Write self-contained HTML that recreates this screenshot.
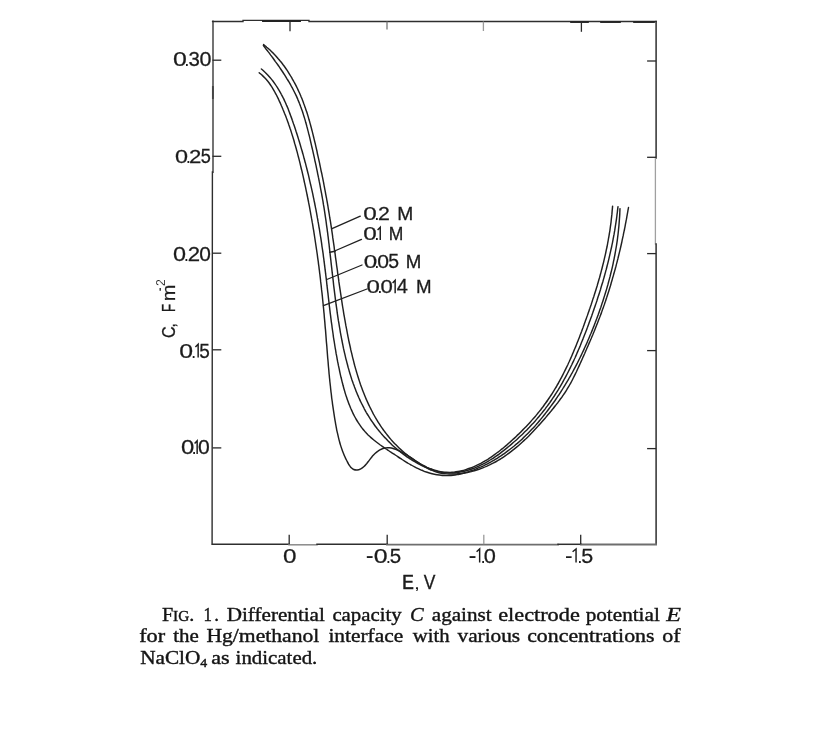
<!DOCTYPE html>
<html><head><meta charset="utf-8"><title>Fig. 1</title>
<style>html,body{margin:0;padding:0;background:#fff}body{width:832px;height:750px;position:relative;overflow:hidden;font-family:"Liberation Sans",sans-serif}</style>
</head><body>
<svg width="832" height="750" viewBox="0 0 832 750" style="position:absolute;left:0;top:0;will-change:transform;filter:grayscale(1) blur(0.35px);font-family:'Liberation Sans',sans-serif">
<g fill="none" stroke-linecap="square">
<path d="M213.0,21.5 L213.0,172" stroke="#6c6c6c" stroke-width="1.9"/>
<path d="M212.9,87 L212.9,98" stroke="#444" stroke-width="1.9"/>
<path d="M212.4,172 L212.1,544.3" stroke="#2e2e2e" stroke-width="1.4"/>
<path d="M656.1,21.5 L656.1,158" stroke="#2e2e2e" stroke-width="1.5"/>
<path d="M655.4,158 L655.4,244" stroke="#a0a0a0" stroke-width="1.3"/>
<path d="M656.1,244 L656.1,544.3" stroke="#2e2e2e" stroke-width="1.5"/>
<path d="M212.6,21.5 L243,21.5" stroke="#2e2e2e" stroke-width="1.4"/>
<path d="M243,20.4 L309,20.4" stroke="#2e2e2e" stroke-width="1.3"/>
<path d="M263,21.0 L300,21.0" stroke="#222" stroke-width="1.9"/>
<path d="M309,21.5 L656.1,21.5" stroke="#2e2e2e" stroke-width="1.4"/>
<path d="M571,22.1 L588,22.1" stroke="#222" stroke-width="1.7"/>
<path d="M601,22.1 L620,22.1" stroke="#222" stroke-width="1.7"/>
<path d="M634,22.1 L654,22.1" stroke="#222" stroke-width="1.7"/>
<path d="M212.6,544.3 L289,544.3" stroke="#2e2e2e" stroke-width="1.5"/>
<path d="M289,544.8 L317,544.8" stroke="#8a8a8a" stroke-width="1.5"/>
<path d="M317,544.3 L387,544.3" stroke="#2e2e2e" stroke-width="1.5"/>
<path d="M387,544.5999999999999 L558,544.5999999999999" stroke="#6e6e6e" stroke-width="1.9"/>
<path d="M558,544.3 L581,544.3" stroke="#2e2e2e" stroke-width="1.5"/>
<path d="M581,544.5 L656.1,544.5" stroke="#6e6e6e" stroke-width="1.8"/>
</g>
<g fill="none">
<path d="M212.5,60.2 L221.3,60.2" stroke="#2a2a2a" stroke-width="1.3"/>
<path d="M212.5,156.3 L221.3,156.3" stroke="#2a2a2a" stroke-width="1.3"/>
<path d="M212.5,253.2 L221.3,253.2" stroke="#2a2a2a" stroke-width="1.3"/>
<path d="M212.5,349.8 L221.3,349.8" stroke="#2a2a2a" stroke-width="1.3"/>
<path d="M212.5,447.9 L221.3,447.9" stroke="#2a2a2a" stroke-width="1.3"/>
<path d="M656.1,61.0 L647.1,61.0" stroke="#2a2a2a" stroke-width="1.3"/>
<path d="M656.1,157.3 L647.1,157.3" stroke="#2a2a2a" stroke-width="1.3"/>
<path d="M656.1,253.6 L647.1,253.6" stroke="#2a2a2a" stroke-width="1.3"/>
<path d="M656.1,350.6 L647.1,350.6" stroke="#2a2a2a" stroke-width="1.3"/>
<path d="M656.1,448.6 L647.1,448.6" stroke="#2a2a2a" stroke-width="1.3"/>
<path d="M289.2,544.3 L289.2,534.6999999999999" stroke="#2a2a2a" stroke-width="1.3"/>
<path d="M387.2,544.3 L387.2,534.6999999999999" stroke="#2a2a2a" stroke-width="1.3"/>
<path d="M483.8,544.3 L483.8,534.6999999999999" stroke="#9a9a9a" stroke-width="1.3"/>
<path d="M580.7,544.3 L580.7,534.6999999999999" stroke="#2a2a2a" stroke-width="1.3"/>
<path d="M290.0,21.5 L290.0,31.3" stroke="#2a2a2a" stroke-width="1.3"/>
<path d="M387.0,21.5 L387.0,29.5" stroke="#777" stroke-width="1.3"/>
<path d="M483.4,21.5 L483.4,31.0" stroke="#9a9a9a" stroke-width="1.3"/>
<path d="M581.4,21.5 L581.4,31.8" stroke="#2a2a2a" stroke-width="1.3"/>
</g>
<g fill="none" stroke="#202020" stroke-width="1.45" stroke-linecap="round" stroke-linejoin="round">
<path d="M263.6,44.6C264.1,45.1 265.7,46.3 266.7,47.2C267.7,48.0 268.7,48.9 269.7,49.8C270.7,50.7 271.6,51.7 272.6,52.6C273.5,53.6 274.4,54.5 275.4,55.5C276.3,56.5 277.2,57.5 278.0,58.5C278.9,59.5 279.8,60.5 280.6,61.6C281.5,62.6 282.3,63.7 283.1,64.8C283.9,65.8 284.7,66.9 285.5,68.0C286.3,69.1 287.0,70.3 287.8,71.4C288.5,72.5 289.2,73.7 289.9,74.8C290.7,76.0 291.3,77.1 292.0,78.3C292.7,79.5 293.4,80.6 294.0,81.8C294.7,83.0 295.3,84.2 295.9,85.4C296.5,86.6 297.1,87.9 297.7,89.1C298.3,90.3 298.8,91.5 299.4,92.8C299.9,94.0 300.5,95.2 301.0,96.5C301.5,97.7 302.0,99.0 302.5,100.2C303.0,101.5 303.5,102.7 303.9,104.0C304.4,105.2 304.8,106.5 305.3,107.8C305.7,109.0 306.1,110.3 306.6,111.6C307.0,112.8 307.4,114.1 307.8,115.4C308.2,116.7 308.6,118.0 308.9,119.3C309.3,120.5 309.7,121.8 310.0,123.1C310.4,124.4 310.7,125.7 311.1,127.0C311.4,128.3 311.8,129.6 312.1,130.9C312.4,132.2 312.8,133.5 313.1,134.8C313.4,136.1 313.7,137.4 314.0,138.7C314.3,140.0 314.7,141.4 315.0,142.7C315.3,144.0 315.6,145.3 315.9,146.6C316.2,147.9 316.5,149.2 316.8,150.5C317.1,151.8 317.3,153.2 317.6,154.5C317.9,155.8 318.2,157.1 318.5,158.4C318.8,159.7 319.1,161.0 319.4,162.4C319.7,163.7 319.9,165.0 320.2,166.3C320.5,167.6 320.8,169.0 321.0,170.3C321.3,171.6 321.6,172.9 321.9,174.2C322.1,175.5 322.4,176.9 322.7,178.2C322.9,179.5 323.2,180.8 323.5,182.2C323.7,183.5 324.0,184.8 324.2,186.1C324.5,187.4 324.7,188.8 325.0,190.1C325.2,191.4 325.5,192.7 325.7,194.1C326.0,195.4 326.2,196.7 326.5,198.0C326.7,199.4 326.9,200.7 327.2,202.0C327.4,203.3 327.6,204.7 327.9,206.0C328.1,207.3 328.3,208.7 328.5,210.0C328.8,211.3 329.0,212.6 329.2,214.0C329.4,215.3 329.6,216.6 329.8,218.0C330.1,219.3 330.3,220.6 330.5,221.9C330.7,223.3 330.9,224.6 331.1,225.9C331.3,227.3 331.5,228.6 331.7,229.9C331.9,231.3 332.1,232.6 332.3,233.9C332.5,235.3 332.7,236.6 332.8,237.9C333.0,239.2 333.2,240.6 333.4,241.9C333.6,243.2 333.8,244.6 334.0,245.9C334.2,247.2 334.3,248.6 334.5,249.9C334.7,251.2 334.9,252.6 335.1,253.9C335.3,255.2 335.4,256.6 335.6,257.9C335.8,259.2 336.0,260.6 336.2,261.9C336.4,263.2 336.5,264.6 336.7,265.9C336.9,267.2 337.1,268.6 337.3,269.9C337.5,271.2 337.6,272.6 337.8,273.9C338.0,275.2 338.2,276.5 338.4,277.9C338.6,279.2 338.8,280.5 338.9,281.9C339.1,283.2 339.3,284.5 339.5,285.9C339.7,287.2 339.9,288.5 340.1,289.9C340.3,291.2 340.5,292.5 340.7,293.8C340.9,295.2 341.1,296.5 341.3,297.8C341.5,299.2 341.7,300.5 341.9,301.8C342.1,303.1 342.3,304.5 342.5,305.8C342.7,307.1 342.9,308.5 343.2,309.8C343.4,311.1 343.6,312.4 343.8,313.8C344.0,315.1 344.3,316.4 344.5,317.7C344.7,319.1 345.0,320.4 345.2,321.7C345.4,323.0 345.7,324.4 345.9,325.7C346.2,327.0 346.4,328.3 346.7,329.7C346.9,331.0 347.2,332.3 347.4,333.6C347.7,334.9 347.9,336.3 348.2,337.6C348.5,338.9 348.7,340.2 349.0,341.5C349.3,342.9 349.6,344.2 349.9,345.5C350.2,346.8 350.5,348.1 350.7,349.4C351.0,350.8 351.3,352.1 351.7,353.4C352.0,354.7 352.3,356.0 352.6,357.3C352.9,358.6 353.3,359.9 353.6,361.2C353.9,362.6 354.3,363.9 354.6,365.2C355.0,366.5 355.3,367.8 355.7,369.1C356.1,370.4 356.4,371.6 356.8,372.9C357.2,374.2 357.6,375.5 358.0,376.8C358.4,378.1 358.8,379.4 359.2,380.6C359.6,381.9 360.1,383.2 360.5,384.5C360.9,385.7 361.4,387.0 361.9,388.2C362.3,389.5 362.8,390.8 363.3,392.0C363.8,393.3 364.3,394.5 364.8,395.7C365.3,397.0 365.8,398.2 366.3,399.4C366.9,400.7 367.4,401.9 368.0,403.1C368.5,404.3 369.1,405.5 369.7,406.7C370.3,407.9 370.9,409.1 371.5,410.3C372.1,411.5 372.7,412.7 373.3,413.9C374.0,415.0 374.6,416.2 375.3,417.4C376.0,418.5 376.7,419.7 377.4,420.8C378.1,422.0 378.8,423.1 379.5,424.2C380.3,425.4 381.0,426.5 381.8,427.6C382.6,428.7 383.3,429.8 384.1,430.9C384.9,432.0 385.8,433.1 386.6,434.1C387.4,435.2 388.3,436.3 389.1,437.3C390.0,438.3 390.9,439.4 391.8,440.4C392.7,441.4 393.6,442.4 394.5,443.4C395.5,444.4 396.4,445.3 397.4,446.3C398.3,447.2 399.3,448.2 400.3,449.1C401.3,450.0 402.3,450.9 403.3,451.8C404.3,452.7 405.4,453.6 406.4,454.4C407.5,455.3 408.5,456.1 409.6,456.9C410.7,457.7 411.8,458.5 412.9,459.2C414.0,460.0 415.2,460.8 416.3,461.5C417.5,462.2 418.6,462.9 419.8,463.6C421.0,464.2 422.2,464.9 423.4,465.5C424.6,466.1 425.8,466.7 427.0,467.3C428.2,467.8 429.5,468.3 430.7,468.8C432.0,469.3 433.2,469.7 434.5,470.1C435.8,470.5 437.1,470.8 438.3,471.1C439.6,471.4 440.9,471.7 442.2,471.9C443.5,472.1 444.8,472.2 446.1,472.3C447.5,472.4 448.8,472.4 450.1,472.4C451.4,472.3 452.7,472.2 454.0,472.1C455.4,472.0 456.7,471.8 458.0,471.5C459.3,471.3 460.6,471.0 461.9,470.7C463.2,470.4 464.5,470.0 465.8,469.6C467.1,469.2 468.4,468.8 469.7,468.3C470.9,467.9 472.2,467.4 473.5,466.8C474.7,466.3 475.9,465.8 477.1,465.2C478.4,464.6 479.6,464.0 480.8,463.4C481.9,462.7 483.1,462.1 484.3,461.4C485.5,460.7 486.6,460.0 487.8,459.3C488.9,458.6 490.0,457.8 491.1,457.1C492.3,456.3 493.4,455.5 494.5,454.7C495.6,453.9 496.7,453.1 497.7,452.3C498.8,451.5 499.9,450.6 500.9,449.8C502.0,448.9 503.1,448.1 504.1,447.2C505.1,446.3 506.2,445.4 507.2,444.6C508.2,443.7 509.2,442.8 510.3,441.9C511.3,441.0 512.3,440.1 513.3,439.1C514.3,438.2 515.3,437.3 516.2,436.4C517.2,435.4 518.2,434.5 519.2,433.6C520.1,432.6 521.1,431.7 522.0,430.7C523.0,429.8 523.9,428.8 524.9,427.8C525.8,426.9 526.7,425.9 527.6,424.9C528.6,423.9 529.5,422.9 530.4,421.9C531.3,421.0 532.2,419.9 533.0,418.9C533.9,417.9 534.8,416.9 535.7,415.9C536.5,414.9 537.4,413.8 538.2,412.8C539.1,411.8 539.9,410.7 540.7,409.7C541.5,408.6 542.3,407.6 543.2,406.5C544.0,405.4 544.7,404.3 545.5,403.3C546.3,402.2 547.1,401.1 547.8,400.0C548.6,398.9 549.4,397.8 550.1,396.7C550.8,395.6 551.6,394.4 552.3,393.3C553.0,392.2 553.7,391.0 554.4,389.9C555.1,388.8 555.8,387.6 556.5,386.5C557.1,385.3 557.8,384.1 558.5,383.0C559.1,381.8 559.8,380.6 560.4,379.4C561.0,378.3 561.7,377.1 562.3,375.9C562.9,374.7 563.5,373.5 564.1,372.3C564.7,371.1 565.3,369.9 565.9,368.6C566.5,367.4 567.1,366.2 567.7,365.0C568.2,363.8 568.8,362.5 569.4,361.3C569.9,360.1 570.5,358.8 571.0,357.6C571.6,356.4 572.1,355.1 572.6,353.9C573.2,352.6 573.7,351.4 574.2,350.1C574.7,348.9 575.3,347.6 575.8,346.4C576.3,345.1 576.8,343.9 577.3,342.6C577.8,341.3 578.3,340.1 578.8,338.8C579.3,337.6 579.7,336.3 580.2,335.0C580.7,333.8 581.2,332.5 581.7,331.2C582.1,329.9 582.6,328.7 583.1,327.4C583.5,326.1 584.0,324.9 584.5,323.6C584.9,322.3 585.4,321.1 585.8,319.8C586.3,318.5 586.7,317.2 587.2,316.0C587.6,314.7 588.1,313.4 588.5,312.2C589.0,310.9 589.4,309.6 589.9,308.3C590.3,307.1 590.7,305.8 591.2,304.5C591.6,303.2 592.0,302.0 592.4,300.7C592.8,299.4 593.3,298.1 593.7,296.9C594.1,295.6 594.5,294.3 594.9,293.0C595.3,291.8 595.7,290.5 596.1,289.2C596.5,287.9 596.9,286.6 597.3,285.4C597.6,284.1 598.0,282.8 598.4,281.5C598.8,280.2 599.1,278.9 599.5,277.7C599.9,276.4 600.2,275.1 600.6,273.8C600.9,272.5 601.3,271.2 601.6,269.9C601.9,268.6 602.3,267.3 602.6,266.0C602.9,264.7 603.3,263.4 603.6,262.1C603.9,260.8 604.2,259.5 604.5,258.2C604.8,256.9 605.1,255.6 605.4,254.3C605.7,253.0 606.0,251.7 606.2,250.4C606.5,249.1 606.8,247.8 607.1,246.5C607.3,245.1 607.6,243.8 607.8,242.5C608.1,241.2 608.3,239.9 608.5,238.5C608.8,237.2 609.0,235.9 609.2,234.6C609.4,233.2 609.7,231.9 609.9,230.6C610.1,229.2 610.2,227.9 610.4,226.6C610.6,225.2 610.8,223.9 611.0,222.5C611.1,221.2 611.3,219.8 611.4,218.5C611.6,217.1 611.7,215.8 611.9,214.4C612.0,213.1 612.1,211.7 612.2,210.3C612.4,209.0 612.5,206.9 612.6,206.2"/>
<path d="M263.4,45.5C263.8,46.1 265.0,47.6 265.8,48.7C266.6,49.7 267.5,50.8 268.3,51.9C269.1,52.9 269.9,54.0 270.7,55.1C271.5,56.1 272.3,57.2 273.1,58.3C273.9,59.4 274.7,60.5 275.4,61.6C276.2,62.6 277.0,63.7 277.8,64.8C278.6,65.9 279.3,67.0 280.1,68.1C280.9,69.3 281.6,70.4 282.4,71.5C283.1,72.6 283.8,73.7 284.6,74.9C285.3,76.0 286.0,77.1 286.7,78.3C287.4,79.4 288.1,80.6 288.8,81.7C289.5,82.9 290.1,84.0 290.8,85.2C291.4,86.4 292.1,87.6 292.7,88.7C293.3,89.9 293.9,91.1 294.5,92.3C295.1,93.5 295.7,94.7 296.3,95.9C296.8,97.1 297.4,98.3 297.9,99.6C298.4,100.8 298.9,102.0 299.4,103.3C299.9,104.5 300.4,105.8 300.8,107.0C301.3,108.3 301.7,109.5 302.2,110.8C302.6,112.0 303.0,113.3 303.4,114.6C303.8,115.9 304.2,117.1 304.6,118.4C305.0,119.7 305.4,121.0 305.7,122.3C306.1,123.6 306.5,124.9 306.8,126.2C307.2,127.5 307.5,128.8 307.8,130.1C308.2,131.4 308.5,132.7 308.8,134.0C309.2,135.3 309.5,136.6 309.8,137.9C310.1,139.2 310.4,140.5 310.7,141.8C311.0,143.1 311.3,144.4 311.6,145.8C311.9,147.1 312.2,148.4 312.5,149.7C312.8,151.0 313.1,152.3 313.4,153.6C313.7,154.9 314.0,156.2 314.3,157.6C314.6,158.9 314.8,160.2 315.1,161.5C315.4,162.8 315.7,164.1 316.0,165.4C316.3,166.7 316.5,168.0 316.8,169.4C317.1,170.7 317.4,172.0 317.6,173.3C317.9,174.6 318.2,175.9 318.4,177.2C318.7,178.6 319.0,179.9 319.2,181.2C319.5,182.5 319.7,183.8 320.0,185.1C320.2,186.4 320.5,187.8 320.7,189.1C321.0,190.4 321.2,191.7 321.5,193.0C321.7,194.3 321.9,195.7 322.2,197.0C322.4,198.3 322.6,199.6 322.9,200.9C323.1,202.3 323.3,203.6 323.5,204.9C323.8,206.2 324.0,207.5 324.2,208.9C324.4,210.2 324.6,211.5 324.8,212.8C325.0,214.2 325.2,215.5 325.4,216.8C325.6,218.1 325.8,219.5 326.0,220.8C326.2,222.1 326.3,223.4 326.5,224.8C326.7,226.1 326.9,227.4 327.1,228.8C327.2,230.1 327.4,231.4 327.6,232.7C327.8,234.1 327.9,235.4 328.1,236.7C328.3,238.1 328.4,239.4 328.6,240.7C328.7,242.1 328.9,243.4 329.1,244.7C329.2,246.1 329.4,247.4 329.5,248.7C329.7,250.1 329.8,251.4 330.0,252.7C330.1,254.1 330.3,255.4 330.4,256.7C330.6,258.1 330.7,259.4 330.9,260.7C331.0,262.1 331.2,263.4 331.3,264.7C331.5,266.1 331.6,267.4 331.8,268.7C331.9,270.1 332.1,271.4 332.2,272.7C332.4,274.1 332.6,275.4 332.7,276.8C332.9,278.1 333.0,279.4 333.2,280.8C333.3,282.1 333.5,283.4 333.6,284.8C333.8,286.1 333.9,287.4 334.1,288.8C334.3,290.1 334.4,291.4 334.6,292.8C334.8,294.1 334.9,295.4 335.1,296.8C335.3,298.1 335.4,299.4 335.6,300.8C335.8,302.1 336.0,303.4 336.1,304.7C336.3,306.1 336.5,307.4 336.7,308.7C336.9,310.1 337.1,311.4 337.2,312.7C337.4,314.0 337.6,315.4 337.8,316.7C338.0,318.0 338.2,319.4 338.4,320.7C338.7,322.0 338.9,323.3 339.1,324.7C339.3,326.0 339.5,327.3 339.8,328.6C340.0,329.9 340.2,331.3 340.4,332.6C340.7,333.9 340.9,335.2 341.2,336.5C341.4,337.9 341.7,339.2 341.9,340.5C342.2,341.8 342.4,343.1 342.7,344.4C343.0,345.8 343.3,347.1 343.5,348.4C343.8,349.7 344.1,351.0 344.4,352.3C344.7,353.6 345.0,354.9 345.3,356.2C345.6,357.5 345.9,358.9 346.3,360.2C346.6,361.5 346.9,362.8 347.3,364.0C347.6,365.3 348.0,366.6 348.3,367.9C348.7,369.2 349.1,370.5 349.4,371.8C349.8,373.1 350.2,374.3 350.6,375.6C351.0,376.9 351.4,378.2 351.8,379.4C352.3,380.7 352.7,382.0 353.1,383.2C353.6,384.5 354.0,385.7 354.5,387.0C355.0,388.2 355.4,389.5 355.9,390.7C356.4,391.9 356.9,393.2 357.4,394.4C358.0,395.6 358.5,396.8 359.0,398.0C359.6,399.3 360.1,400.5 360.7,401.7C361.3,402.9 361.9,404.1 362.5,405.2C363.1,406.4 363.7,407.6 364.3,408.8C364.9,409.9 365.6,411.1 366.2,412.3C366.9,413.4 367.6,414.6 368.3,415.7C369.0,416.8 369.7,418.0 370.4,419.1C371.1,420.2 371.9,421.3 372.7,422.4C373.4,423.5 374.2,424.6 375.0,425.7C375.8,426.8 376.6,427.8 377.4,428.9C378.3,430.0 379.1,431.0 380.0,432.1C380.9,433.1 381.7,434.1 382.6,435.1C383.5,436.2 384.4,437.2 385.4,438.1C386.3,439.1 387.2,440.1 388.2,441.1C389.2,442.0 390.1,443.0 391.1,443.9C392.1,444.9 393.1,445.8 394.1,446.7C395.1,447.6 396.2,448.5 397.2,449.4C398.2,450.2 399.3,451.1 400.4,451.9C401.4,452.8 402.5,453.6 403.6,454.4C404.7,455.2 405.8,456.0 406.9,456.8C408.0,457.5 409.1,458.3 410.3,459.0C411.4,459.7 412.6,460.5 413.7,461.2C414.9,461.8 416.0,462.5 417.2,463.2C418.4,463.8 419.6,464.5 420.8,465.1C422.0,465.7 423.2,466.3 424.4,466.8C425.6,467.4 426.8,467.9 428.1,468.4C429.3,468.9 430.5,469.3 431.8,469.8C433.0,470.2 434.3,470.6 435.6,470.9C436.8,471.3 438.1,471.6 439.4,471.9C440.7,472.1 441.9,472.3 443.2,472.5C444.5,472.7 445.8,472.8 447.1,472.9C448.4,473.0 449.8,473.0 451.1,472.9C452.4,472.9 453.7,472.8 455.0,472.7C456.3,472.6 457.7,472.4 459.0,472.2C460.3,472.0 461.6,471.8 462.9,471.5C464.2,471.2 465.5,470.9 466.8,470.5C468.1,470.2 469.4,469.8 470.7,469.3C471.9,468.9 473.2,468.5 474.5,468.0C475.7,467.5 477.0,467.0 478.2,466.4C479.4,465.9 480.6,465.3 481.8,464.7C483.0,464.1 484.2,463.5 485.4,462.8C486.6,462.2 487.8,461.5 488.9,460.8C490.1,460.1 491.2,459.4 492.4,458.7C493.5,457.9 494.6,457.2 495.7,456.4C496.8,455.7 498.0,454.9 499.1,454.1C500.1,453.3 501.2,452.5 502.3,451.6C503.4,450.8 504.5,450.0 505.5,449.1C506.6,448.3 507.6,447.4 508.7,446.5C509.7,445.7 510.8,444.8 511.8,443.9C512.8,443.0 513.8,442.1 514.8,441.3C515.9,440.4 516.9,439.5 517.9,438.5C518.8,437.6 519.8,436.7 520.8,435.8C521.8,434.9 522.8,433.9 523.7,433.0C524.7,432.1 525.6,431.1 526.6,430.2C527.5,429.2 528.4,428.2 529.4,427.3C530.3,426.3 531.2,425.3 532.1,424.3C533.0,423.4 533.9,422.4 534.8,421.4C535.7,420.4 536.6,419.4 537.4,418.4C538.3,417.3 539.2,416.3 540.0,415.3C540.9,414.3 541.7,413.2 542.5,412.2C543.4,411.2 544.2,410.1 545.0,409.1C545.8,408.0 546.6,406.9 547.4,405.9C548.2,404.8 549.0,403.7 549.8,402.6C550.5,401.5 551.3,400.5 552.0,399.4C552.8,398.3 553.5,397.1 554.3,396.0C555.0,394.9 555.7,393.8 556.4,392.7C557.1,391.5 557.8,390.4 558.5,389.3C559.2,388.1 559.9,387.0 560.6,385.8C561.3,384.7 561.9,383.5 562.6,382.4C563.2,381.2 563.9,380.0 564.5,378.8C565.2,377.7 565.8,376.5 566.4,375.3C567.1,374.1 567.7,372.9 568.3,371.7C568.9,370.5 569.5,369.3 570.1,368.1C570.7,366.9 571.3,365.7 571.9,364.5C572.4,363.3 573.0,362.1 573.6,360.9C574.1,359.7 574.7,358.4 575.3,357.2C575.8,356.0 576.4,354.7 576.9,353.5C577.4,352.3 578.0,351.0 578.5,349.8C579.0,348.6 579.6,347.3 580.1,346.1C580.6,344.8 581.1,343.6 581.6,342.3C582.1,341.1 582.6,339.8 583.1,338.6C583.6,337.3 584.1,336.1 584.6,334.8C585.1,333.6 585.6,332.3 586.1,331.0C586.6,329.8 587.0,328.5 587.5,327.3C588.0,326.0 588.5,324.7 588.9,323.5C589.4,322.2 589.8,321.0 590.3,319.7C590.8,318.4 591.2,317.2 591.7,315.9C592.1,314.6 592.6,313.4 593.0,312.1C593.5,310.8 593.9,309.6 594.3,308.3C594.8,307.0 595.2,305.8 595.6,304.5C596.1,303.2 596.5,301.9 596.9,300.7C597.3,299.4 597.7,298.1 598.1,296.8C598.6,295.6 599.0,294.3 599.4,293.0C599.8,291.7 600.2,290.5 600.6,289.2C600.9,287.9 601.3,286.6 601.7,285.3C602.1,284.1 602.5,282.8 602.9,281.5C603.2,280.2 603.6,278.9 604.0,277.6C604.3,276.4 604.7,275.1 605.0,273.8C605.4,272.5 605.7,271.2 606.1,269.9C606.4,268.6 606.8,267.3 607.1,266.0C607.4,264.7 607.8,263.5 608.1,262.2C608.4,260.9 608.7,259.6 609.0,258.3C609.3,257.0 609.6,255.7 609.9,254.4C610.2,253.1 610.5,251.8 610.8,250.4C611.1,249.1 611.4,247.8 611.7,246.5C611.9,245.2 612.2,243.9 612.5,242.6C612.7,241.3 613.0,240.0 613.2,238.6C613.5,237.3 613.7,236.0 614.0,234.7C614.2,233.4 614.4,232.0 614.7,230.7C614.9,229.4 615.1,228.1 615.3,226.7C615.5,225.4 615.7,224.1 615.9,222.8C616.1,221.4 616.3,220.1 616.5,218.8C616.7,217.4 616.9,216.1 617.0,214.7C617.2,213.4 617.4,212.1 617.5,210.7C617.7,209.4 617.9,207.3 618.0,206.7"/>
<path d="M261.4,69.0C262.0,69.4 263.5,70.8 264.5,71.8C265.5,72.7 266.5,73.7 267.5,74.7C268.4,75.7 269.3,76.7 270.2,77.7C271.1,78.7 271.9,79.8 272.7,80.8C273.5,81.9 274.3,83.0 275.1,84.1C275.9,85.2 276.6,86.3 277.3,87.4C278.0,88.5 278.7,89.7 279.4,90.8C280.1,92.0 280.7,93.1 281.3,94.3C282.0,95.5 282.6,96.7 283.2,97.9C283.8,99.0 284.3,100.3 284.9,101.5C285.5,102.7 286.0,103.9 286.5,105.1C287.1,106.4 287.6,107.6 288.1,108.8C288.6,110.1 289.1,111.3 289.5,112.6C290.0,113.8 290.5,115.1 290.9,116.4C291.4,117.6 291.9,118.9 292.3,120.2C292.7,121.4 293.2,122.7 293.6,124.0C294.1,125.3 294.5,126.5 294.9,127.8C295.3,129.1 295.8,130.4 296.2,131.7C296.6,132.9 297.0,134.2 297.4,135.5C297.8,136.8 298.2,138.1 298.6,139.4C299.0,140.7 299.4,141.9 299.8,143.2C300.2,144.5 300.6,145.8 300.9,147.1C301.3,148.4 301.7,149.7 302.1,151.0C302.4,152.3 302.8,153.6 303.2,154.9C303.5,156.2 303.9,157.5 304.2,158.8C304.6,160.1 304.9,161.4 305.3,162.7C305.6,164.0 306.0,165.3 306.3,166.6C306.6,167.9 307.0,169.2 307.3,170.5C307.6,171.8 307.9,173.1 308.3,174.4C308.6,175.7 308.9,177.0 309.2,178.3C309.5,179.7 309.8,181.0 310.1,182.3C310.4,183.6 310.7,184.9 311.0,186.2C311.3,187.5 311.6,188.8 311.9,190.2C312.2,191.5 312.5,192.8 312.8,194.1C313.0,195.4 313.3,196.7 313.6,198.1C313.9,199.4 314.1,200.7 314.4,202.0C314.7,203.3 314.9,204.7 315.2,206.0C315.4,207.3 315.7,208.6 316.0,209.9C316.2,211.3 316.5,212.6 316.7,213.9C316.9,215.2 317.2,216.6 317.4,217.9C317.7,219.2 317.9,220.5 318.1,221.9C318.4,223.2 318.6,224.5 318.8,225.8C319.0,227.2 319.3,228.5 319.5,229.8C319.7,231.1 319.9,232.5 320.1,233.8C320.3,235.1 320.5,236.5 320.8,237.8C321.0,239.1 321.2,240.4 321.4,241.8C321.6,243.1 321.8,244.4 321.9,245.8C322.1,247.1 322.3,248.4 322.5,249.7C322.7,251.1 322.9,252.4 323.1,253.7C323.3,255.1 323.4,256.4 323.6,257.7C323.8,259.1 324.0,260.4 324.1,261.7C324.3,263.0 324.5,264.4 324.6,265.7C324.8,267.0 325.0,268.4 325.1,269.7C325.3,271.0 325.5,272.4 325.6,273.7C325.8,275.0 325.9,276.3 326.1,277.7C326.3,279.0 326.4,280.3 326.6,281.7C326.7,283.0 326.9,284.3 327.0,285.7C327.2,287.0 327.3,288.3 327.5,289.6C327.6,291.0 327.8,292.3 328.0,293.6C328.1,295.0 328.3,296.3 328.4,297.6C328.6,299.0 328.7,300.3 328.9,301.6C329.0,302.9 329.2,304.3 329.3,305.6C329.5,306.9 329.7,308.3 329.8,309.6C330.0,310.9 330.1,312.3 330.3,313.6C330.5,314.9 330.6,316.2 330.8,317.6C331.0,318.9 331.1,320.2 331.3,321.6C331.5,322.9 331.7,324.2 331.9,325.5C332.0,326.9 332.2,328.2 332.4,329.5C332.6,330.9 332.8,332.2 333.0,333.5C333.2,334.9 333.3,336.2 333.5,337.5C333.7,338.8 333.9,340.2 334.2,341.5C334.4,342.8 334.6,344.2 334.8,345.5C335.0,346.8 335.2,348.1 335.5,349.5C335.7,350.8 335.9,352.1 336.1,353.4C336.4,354.8 336.6,356.1 336.9,357.4C337.1,358.8 337.4,360.1 337.6,361.4C337.9,362.7 338.2,364.1 338.4,365.4C338.7,366.7 339.0,368.0 339.3,369.4C339.5,370.7 339.8,372.0 340.1,373.3C340.4,374.7 340.7,376.0 341.0,377.3C341.4,378.7 341.7,380.0 342.0,381.3C342.3,382.6 342.7,383.9 343.0,385.3C343.4,386.6 343.7,387.9 344.1,389.2C344.5,390.5 344.8,391.8 345.2,393.1C345.6,394.4 346.0,395.7 346.5,397.0C346.9,398.3 347.3,399.6 347.8,400.8C348.2,402.1 348.7,403.4 349.2,404.6C349.7,405.9 350.2,407.1 350.7,408.3C351.3,409.5 351.8,410.8 352.4,412.0C352.9,413.2 353.5,414.3 354.1,415.5C354.7,416.7 355.4,417.8 356.0,419.0C356.7,420.1 357.4,421.2 358.1,422.4C358.8,423.5 359.5,424.5 360.3,425.6C361.0,426.7 361.8,427.7 362.6,428.8C363.4,429.8 364.3,430.8 365.1,431.8C366.0,432.8 366.9,433.7 367.8,434.7C368.8,435.6 369.7,436.5 370.7,437.4C371.7,438.3 372.7,439.2 373.8,440.0C374.8,440.9 375.9,441.7 377.0,442.5C378.1,443.4 379.2,444.2 380.3,445.0C381.4,445.7 382.5,446.5 383.7,447.3C384.8,448.1 385.9,448.8 387.1,449.6C388.2,450.4 389.4,451.1 390.5,451.9C391.7,452.7 392.8,453.4 394.0,454.2C395.1,454.9 396.2,455.7 397.4,456.4C398.5,457.2 399.6,458.0 400.8,458.7C401.9,459.4 403.0,460.2 404.2,460.9C405.3,461.6 406.4,462.3 407.6,463.0C408.7,463.7 409.9,464.4 411.1,465.0C412.2,465.7 413.4,466.3 414.6,466.9C415.8,467.6 417.0,468.2 418.2,468.7C419.4,469.3 420.6,469.8 421.8,470.3C423.1,470.8 424.3,471.3 425.6,471.8C426.8,472.2 428.1,472.6 429.4,473.0C430.7,473.4 431.9,473.7 433.2,474.0C434.5,474.3 435.8,474.6 437.1,474.8C438.4,475.0 439.8,475.2 441.1,475.3C442.4,475.5 443.7,475.5 445.0,475.6C446.4,475.6 447.7,475.6 449.0,475.5C450.3,475.5 451.7,475.4 453.0,475.2C454.3,475.1 455.7,474.9 457.0,474.6C458.3,474.4 459.6,474.1 461.0,473.8C462.3,473.5 463.6,473.2 464.9,472.8C466.2,472.4 467.5,472.0 468.8,471.6C470.1,471.2 471.4,470.8 472.7,470.3C473.9,469.8 475.2,469.3 476.4,468.8C477.7,468.3 478.9,467.8 480.2,467.2C481.4,466.7 482.6,466.1 483.9,465.6C485.1,465.0 486.3,464.4 487.5,463.8C488.7,463.2 489.8,462.5 491.0,461.9C492.2,461.2 493.3,460.6 494.5,459.9C495.6,459.2 496.8,458.5 497.9,457.8C499.1,457.1 500.2,456.3 501.3,455.6C502.4,454.8 503.5,454.1 504.6,453.3C505.7,452.5 506.8,451.7 507.8,450.9C508.9,450.1 510.0,449.3 511.0,448.5C512.1,447.7 513.1,446.8 514.2,446.0C515.2,445.1 516.2,444.2 517.3,443.4C518.3,442.5 519.3,441.6 520.3,440.7C521.3,439.8 522.3,438.9 523.2,437.9C524.2,437.0 525.2,436.1 526.2,435.1C527.1,434.2 528.1,433.2 529.0,432.3C530.0,431.3 530.9,430.3 531.8,429.3C532.7,428.4 533.7,427.4 534.6,426.4C535.5,425.4 536.4,424.3 537.3,423.3C538.1,422.3 539.0,421.3 539.9,420.2C540.8,419.2 541.6,418.2 542.5,417.1C543.3,416.1 544.2,415.0 545.0,414.0C545.9,412.9 546.7,411.8 547.5,410.8C548.3,409.7 549.1,408.6 549.9,407.5C550.7,406.4 551.5,405.4 552.3,404.3C553.1,403.2 553.9,402.1 554.7,401.0C555.4,399.9 556.2,398.8 557.0,397.6C557.7,396.5 558.5,395.4 559.2,394.3C559.9,393.2 560.7,392.1 561.4,390.9C562.1,389.8 562.8,388.7 563.5,387.5C564.2,386.4 564.9,385.2 565.6,384.1C566.3,383.0 567.0,381.8 567.7,380.7C568.4,379.5 569.0,378.3 569.7,377.2C570.4,376.0 571.0,374.8 571.7,373.7C572.3,372.5 573.0,371.3 573.6,370.2C574.2,369.0 574.9,367.8 575.5,366.6C576.1,365.4 576.7,364.2 577.3,363.1C577.9,361.9 578.5,360.7 579.1,359.5C579.7,358.3 580.3,357.1 580.9,355.9C581.5,354.7 582.1,353.4 582.6,352.2C583.2,351.0 583.8,349.8 584.3,348.6C584.9,347.4 585.4,346.1 586.0,344.9C586.5,343.7 587.1,342.5 587.6,341.2C588.1,340.0 588.7,338.8 589.2,337.5C589.7,336.3 590.2,335.1 590.8,333.8C591.3,332.6 591.8,331.3 592.3,330.1C592.8,328.9 593.3,327.6 593.8,326.4C594.3,325.1 594.7,323.8 595.2,322.6C595.7,321.3 596.2,320.1 596.7,318.8C597.1,317.6 597.6,316.3 598.1,315.0C598.5,313.8 599.0,312.5 599.4,311.2C599.9,309.9 600.3,308.7 600.8,307.4C601.2,306.1 601.6,304.9 602.0,303.6C602.5,302.3 602.9,301.0 603.3,299.7C603.7,298.4 604.1,297.2 604.5,295.9C604.9,294.6 605.3,293.3 605.7,292.0C606.1,290.7 606.5,289.4 606.9,288.1C607.2,286.8 607.6,285.5 608.0,284.2C608.3,282.9 608.7,281.6 609.0,280.3C609.4,279.0 609.7,277.7 610.1,276.4C610.4,275.1 610.7,273.8 611.0,272.5C611.4,271.2 611.7,269.9 612.0,268.6C612.3,267.3 612.6,266.0 612.9,264.6C613.2,263.3 613.4,262.0 613.7,260.7C614.0,259.4 614.2,258.1 614.5,256.7C614.8,255.4 615.0,254.1 615.2,252.8C615.5,251.5 615.7,250.1 615.9,248.8C616.2,247.5 616.4,246.1 616.6,244.8C616.8,243.5 617.0,242.2 617.2,240.8C617.4,239.5 617.6,238.2 617.7,236.8C617.9,235.5 618.1,234.2 618.2,232.8C618.4,231.5 618.5,230.2 618.6,228.8C618.8,227.5 618.9,226.2 619.0,224.8C619.1,223.5 619.2,222.1 619.3,220.8C619.4,219.5 619.5,218.1 619.6,216.8C619.7,215.4 619.8,214.1 619.8,212.7C619.9,211.4 619.9,209.4 620.0,208.7"/>
<path d="M259.2,72.7C259.7,73.2 261.3,74.5 262.3,75.4C263.3,76.3 264.3,77.3 265.2,78.2C266.1,79.2 266.9,80.2 267.8,81.3C268.6,82.3 269.4,83.4 270.2,84.5C270.9,85.6 271.7,86.7 272.4,87.8C273.1,89.0 273.7,90.1 274.4,91.3C275.0,92.5 275.7,93.6 276.3,94.8C276.9,96.0 277.5,97.2 278.1,98.4C278.7,99.7 279.2,100.9 279.8,102.1C280.3,103.3 280.9,104.5 281.4,105.8C282.0,107.0 282.5,108.2 283.0,109.5C283.5,110.7 284.0,111.9 284.5,113.2C285.0,114.4 285.5,115.7 286.0,116.9C286.4,118.2 286.9,119.4 287.4,120.7C287.8,122.0 288.3,123.2 288.7,124.5C289.2,125.8 289.6,127.0 290.0,128.3C290.5,129.6 290.9,130.8 291.3,132.1C291.7,133.4 292.1,134.7 292.5,135.9C292.9,137.2 293.3,138.5 293.7,139.8C294.1,141.1 294.4,142.4 294.8,143.7C295.2,144.9 295.5,146.2 295.9,147.5C296.3,148.8 296.6,150.1 297.0,151.4C297.3,152.7 297.7,154.0 298.0,155.3C298.3,156.6 298.7,157.9 299.0,159.2C299.3,160.5 299.7,161.8 300.0,163.1C300.3,164.4 300.6,165.7 300.9,167.0C301.2,168.3 301.5,169.6 301.9,170.9C302.2,172.2 302.5,173.6 302.8,174.9C303.1,176.2 303.4,177.5 303.7,178.8C304.0,180.1 304.2,181.4 304.5,182.7C304.8,184.0 305.1,185.3 305.4,186.6C305.7,188.0 305.9,189.3 306.2,190.6C306.5,191.9 306.8,193.2 307.0,194.5C307.3,195.8 307.6,197.1 307.8,198.5C308.1,199.8 308.4,201.1 308.6,202.4C308.9,203.7 309.1,205.0 309.4,206.4C309.6,207.7 309.9,209.0 310.1,210.3C310.4,211.6 310.6,212.9 310.8,214.3C311.1,215.6 311.3,216.9 311.5,218.2C311.8,219.5 312.0,220.9 312.2,222.2C312.5,223.5 312.7,224.8 312.9,226.1C313.1,227.5 313.3,228.8 313.6,230.1C313.8,231.4 314.0,232.8 314.2,234.1C314.4,235.4 314.6,236.7 314.8,238.0C315.0,239.4 315.2,240.7 315.4,242.0C315.6,243.3 315.8,244.7 316.0,246.0C316.2,247.3 316.4,248.6 316.6,250.0C316.8,251.3 317.0,252.6 317.2,254.0C317.4,255.3 317.5,256.6 317.7,257.9C317.9,259.3 318.1,260.6 318.3,261.9C318.4,263.3 318.6,264.6 318.8,265.9C319.0,267.2 319.1,268.6 319.3,269.9C319.5,271.2 319.6,272.6 319.8,273.9C320.0,275.2 320.1,276.6 320.3,277.9C320.4,279.2 320.6,280.5 320.7,281.9C320.9,283.2 321.0,284.5 321.2,285.9C321.3,287.2 321.5,288.5 321.6,289.9C321.8,291.2 321.9,292.5 322.1,293.9C322.2,295.2 322.4,296.5 322.5,297.9C322.6,299.2 322.8,300.5 322.9,301.9C323.0,303.2 323.2,304.5 323.3,305.9C323.4,307.2 323.6,308.5 323.7,309.9C323.8,311.2 323.9,312.5 324.1,313.9C324.2,315.2 324.3,316.6 324.4,317.9C324.5,319.2 324.7,320.6 324.8,321.9C324.9,323.2 325.0,324.6 325.1,325.9C325.2,327.2 325.3,328.6 325.5,329.9C325.6,331.3 325.7,332.6 325.8,333.9C325.9,335.3 326.0,336.6 326.1,337.9C326.2,339.3 326.3,340.6 326.4,341.9C326.5,343.3 326.7,344.6 326.8,346.0C326.9,347.3 327.0,348.6 327.1,350.0C327.2,351.3 327.3,352.6 327.4,354.0C327.5,355.3 327.6,356.6 327.7,358.0C327.9,359.3 328.0,360.7 328.1,362.0C328.2,363.3 328.3,364.7 328.4,366.0C328.5,367.3 328.7,368.7 328.8,370.0C328.9,371.3 329.0,372.7 329.1,374.0C329.3,375.3 329.4,376.7 329.5,378.0C329.7,379.3 329.8,380.7 329.9,382.0C330.1,383.3 330.2,384.7 330.4,386.0C330.5,387.3 330.6,388.7 330.8,390.0C330.9,391.3 331.1,392.7 331.3,394.0C331.4,395.3 331.6,396.6 331.7,398.0C331.9,399.3 332.1,400.6 332.3,402.0C332.4,403.3 332.6,404.6 332.8,405.9C333.0,407.3 333.2,408.6 333.4,409.9C333.6,411.3 333.8,412.6 334.0,413.9C334.2,415.2 334.4,416.6 334.6,417.9C334.8,419.2 335.0,420.5 335.3,421.8C335.5,423.2 335.7,424.5 336.0,425.8C336.2,427.1 336.5,428.4 336.7,429.8C337.0,431.1 337.3,432.4 337.6,433.7C337.9,435.0 338.2,436.3 338.5,437.6C338.8,438.9 339.1,440.2 339.5,441.5C339.8,442.8 340.2,444.1 340.6,445.4C341.0,446.7 341.4,448.0 341.9,449.2C342.3,450.5 342.8,451.8 343.3,453.0C343.8,454.3 344.3,455.6 344.9,456.8C345.4,458.1 346.0,459.3 346.7,460.5C347.3,461.7 347.9,463.0 348.6,464.2C349.4,465.3 350.1,466.5 350.9,467.4C351.8,468.2 352.7,469.1 353.7,469.5C354.7,469.9 355.9,470.1 357.1,470.0C358.3,469.9 359.6,469.4 360.8,468.8C362.0,468.2 363.0,467.4 364.0,466.5C365.0,465.6 365.9,464.5 366.8,463.5C367.7,462.4 368.5,461.2 369.4,460.1C370.3,459.0 371.1,457.8 372.0,456.7C373.0,455.6 373.9,454.5 375.0,453.5C376.0,452.6 377.1,451.7 378.3,450.9C379.4,450.1 380.6,449.5 381.8,449.0C383.0,448.5 384.3,448.1 385.5,447.9C386.8,447.7 388.0,447.7 389.3,447.8C390.6,448.0 391.8,448.2 393.1,448.5C394.3,448.9 395.6,449.3 396.8,449.8C398.1,450.3 399.3,450.9 400.5,451.5C401.7,452.1 402.9,452.8 404.1,453.4C405.3,454.1 406.4,454.8 407.6,455.5C408.7,456.2 409.9,457.0 411.0,457.7C412.1,458.5 413.2,459.2 414.4,460.0C415.5,460.7 416.6,461.5 417.7,462.2C418.8,463.0 420.0,463.7 421.1,464.4C422.2,465.1 423.3,465.9 424.5,466.5C425.6,467.2 426.8,467.8 428.0,468.5C429.1,469.1 430.3,469.6 431.5,470.2C432.7,470.7 434.0,471.2 435.2,471.6C436.4,472.0 437.7,472.4 439.0,472.7C440.3,473.0 441.6,473.3 442.9,473.5C444.3,473.7 445.6,473.8 447.0,473.9C448.3,474.0 449.7,474.1 451.1,474.1C452.4,474.1 453.8,474.1 455.2,474.0C456.6,474.0 457.9,473.8 459.3,473.7C460.7,473.6 462.1,473.4 463.4,473.2C464.8,473.0 466.1,472.7 467.4,472.5C468.8,472.2 470.1,471.9 471.4,471.6C472.7,471.2 474.0,470.9 475.2,470.5C476.5,470.1 477.8,469.7 479.1,469.3C480.3,468.9 481.6,468.4 482.8,467.9C484.0,467.4 485.2,466.9 486.5,466.4C487.7,465.9 488.9,465.3 490.1,464.7C491.2,464.1 492.4,463.5 493.6,462.9C494.8,462.3 495.9,461.7 497.1,461.0C498.2,460.3 499.3,459.7 500.5,459.0C501.6,458.2 502.7,457.5 503.8,456.8C504.9,456.1 506.0,455.3 507.1,454.5C508.2,453.7 509.3,453.0 510.3,452.1C511.4,451.3 512.4,450.5 513.5,449.7C514.5,448.8 515.6,448.0 516.6,447.1C517.6,446.3 518.7,445.4 519.7,444.5C520.7,443.6 521.7,442.7 522.7,441.8C523.7,440.9 524.7,439.9 525.7,439.0C526.6,438.1 527.6,437.1 528.6,436.2C529.5,435.2 530.5,434.2 531.4,433.3C532.4,432.3 533.3,431.3 534.2,430.3C535.2,429.3 536.1,428.3 537.0,427.3C537.9,426.3 538.9,425.3 539.8,424.3C540.7,423.3 541.6,422.3 542.4,421.3C543.3,420.2 544.2,419.2 545.1,418.2C546.0,417.2 546.8,416.1 547.7,415.1C548.6,414.1 549.4,413.1 550.3,412.0C551.1,411.0 552.0,410.0 552.8,408.9C553.7,407.9 554.5,406.9 555.3,405.8C556.1,404.8 556.9,403.7 557.8,402.7C558.6,401.6 559.3,400.6 560.1,399.5C560.9,398.4 561.7,397.4 562.4,396.3C563.2,395.2 563.9,394.1 564.7,393.0C565.4,391.9 566.1,390.8 566.8,389.7C567.5,388.5 568.2,387.4 568.9,386.2C569.5,385.1 570.2,383.9 570.8,382.8C571.5,381.6 572.1,380.4 572.7,379.2C573.3,378.0 573.9,376.8 574.5,375.6C575.1,374.4 575.7,373.2 576.3,372.0C576.9,370.7 577.5,369.5 578.0,368.3C578.6,367.1 579.2,365.8 579.7,364.6C580.3,363.4 580.8,362.1 581.4,360.9C581.9,359.6 582.5,358.4 583.0,357.2C583.6,355.9 584.1,354.7 584.7,353.5C585.2,352.2 585.8,351.0 586.3,349.8C586.8,348.5 587.4,347.3 587.9,346.1C588.4,344.8 589.0,343.6 589.5,342.4C590.0,341.1 590.6,339.9 591.1,338.7C591.6,337.4 592.1,336.2 592.7,335.0C593.2,333.7 593.7,332.5 594.2,331.3C594.7,330.0 595.2,328.8 595.7,327.5C596.2,326.3 596.7,325.1 597.2,323.8C597.7,322.6 598.2,321.3 598.6,320.1C599.1,318.8 599.6,317.6 600.1,316.3C600.5,315.1 601.0,313.8 601.5,312.6C601.9,311.3 602.4,310.0 602.8,308.8C603.3,307.5 603.7,306.2 604.2,305.0C604.6,303.7 605.0,302.4 605.5,301.2C605.9,299.9 606.3,298.6 606.7,297.4C607.1,296.1 607.6,294.8 608.0,293.5C608.4,292.3 608.8,291.0 609.2,289.7C609.6,288.4 610.0,287.1 610.4,285.9C610.8,284.6 611.1,283.3 611.5,282.0C611.9,280.7 612.3,279.4 612.6,278.1C613.0,276.9 613.4,275.6 613.7,274.3C614.1,273.0 614.5,271.7 614.8,270.4C615.2,269.1 615.5,267.8 615.9,266.5C616.2,265.2 616.5,263.9 616.9,262.6C617.2,261.3 617.5,260.0 617.9,258.7C618.2,257.4 618.5,256.1 618.8,254.8C619.1,253.5 619.5,252.2 619.8,250.9C620.1,249.6 620.4,248.3 620.7,247.0C621.0,245.7 621.3,244.3 621.6,243.0C621.9,241.7 622.1,240.4 622.4,239.1C622.7,237.8 623.0,236.5 623.3,235.2C623.5,233.8 623.8,232.5 624.1,231.2C624.4,229.9 624.6,228.6 624.9,227.3C625.1,226.0 625.4,224.6 625.6,223.3C625.9,222.0 626.1,220.7 626.4,219.4C626.6,218.1 626.9,216.7 627.1,215.4C627.3,214.1 627.6,212.8 627.8,211.5C628.0,210.1 628.4,208.2 628.5,207.5"/>
<path d="M332,228.7 L360.3,216.2" stroke-width="1.3"/>
<path d="M334.6,251.0 L361.5,239.4" stroke-width="1.3"/>
<path d="M326.8,279.5 L362,265" stroke-width="1.3"/>
<path d="M323.4,305.6 L367,289" stroke-width="1.3"/>
<path d="M329.8,252.3 L335,251.2" stroke-width="1.6"/>
</g>
<text transform="translate(173.03,66.30) scale(0.2489,0.1948)" font-size="100" fill="#1c1c1c" stroke="#1c1c1c" stroke-width="1.26">0</text>
<text transform="translate(184.17,66.30) scale(0.1890,0.1890)" font-size="100" fill="#1c1c1c">.</text>
<text transform="translate(188.42,66.30) scale(0.2046,0.1948)" font-size="100" fill="#1c1c1c" stroke="#1c1c1c" stroke-width="1.40">3</text>
<text transform="translate(199.46,66.30) scale(0.2155,0.1948)" font-size="100" fill="#1c1c1c" stroke="#1c1c1c" stroke-width="1.37">0</text>
<text transform="translate(174.88,163.40) scale(0.2343,0.1919)" font-size="100" fill="#1c1c1c" stroke="#1c1c1c" stroke-width="1.31">0</text>
<text transform="translate(185.77,163.40) scale(0.1890,0.1890)" font-size="100" fill="#1c1c1c">.</text>
<text transform="translate(189.08,163.40) scale(0.2217,0.1919)" font-size="100" fill="#1c1c1c" stroke="#1c1c1c" stroke-width="1.35">2</text>
<text transform="translate(200.67,163.40) scale(0.1814,0.1948)" font-size="100" fill="#1c1c1c" stroke="#1c1c1c" stroke-width="1.49">5</text>
<text transform="translate(173.08,260.80) scale(0.2343,0.1948)" font-size="100" fill="#1c1c1c" stroke="#1c1c1c" stroke-width="1.31">0</text>
<text transform="translate(183.87,260.80) scale(0.1890,0.1890)" font-size="100" fill="#1c1c1c">.</text>
<text transform="translate(187.68,260.80) scale(0.2217,0.1948)" font-size="100" fill="#1c1c1c" stroke="#1c1c1c" stroke-width="1.34">2</text>
<text transform="translate(199.18,260.80) scale(0.2092,0.1948)" font-size="100" fill="#1c1c1c" stroke="#1c1c1c" stroke-width="1.39">0</text>
<text transform="translate(179.13,357.50) scale(0.2489,0.1948)" font-size="100" fill="#1c1c1c" stroke="#1c1c1c" stroke-width="1.26">0</text>
<text transform="translate(190.97,357.50) scale(0.1890,0.1890)" font-size="100" fill="#1c1c1c">.</text>
<path d="M195.40,347.10 L198.15,344.30 L198.15,357.50" fill="none" stroke="#1c1c1c" stroke-width="1.45" stroke-linejoin="miter"/>
<text transform="translate(199.24,357.50) scale(0.1898,0.1977)" font-size="100" fill="#1c1c1c" stroke="#1c1c1c" stroke-width="1.45">5</text>
<text transform="translate(180.97,454.00) scale(0.2385,0.1948)" font-size="100" fill="#1c1c1c" stroke="#1c1c1c" stroke-width="1.29">0</text>
<text transform="translate(191.47,454.00) scale(0.1890,0.1890)" font-size="100" fill="#1c1c1c">.</text>
<path d="M194.60,443.60 L197.15,440.80 L197.15,454.00" fill="none" stroke="#1c1c1c" stroke-width="1.45" stroke-linejoin="miter"/>
<text transform="translate(198.07,454.00) scale(0.2113,0.1948)" font-size="100" fill="#1c1c1c" stroke="#1c1c1c" stroke-width="1.38">0</text>
<text transform="translate(283.05,562.50) scale(0.2427,0.1948)" font-size="100" fill="#1c1c1c" stroke="#1c1c1c" stroke-width="1.28">0</text>
<text transform="translate(365.64,562.60) scale(0.2376,0.2376)" font-size="100" fill="#1c1c1c">-</text>
<text transform="translate(373.83,562.60) scale(0.2489,0.1976)" font-size="100" fill="#1c1c1c" stroke="#1c1c1c" stroke-width="1.25">0</text>
<text transform="translate(385.77,562.60) scale(0.1890,0.1890)" font-size="100" fill="#1c1c1c">.</text>
<text transform="translate(389.68,562.60) scale(0.2046,0.2006)" font-size="100" fill="#1c1c1c" stroke="#1c1c1c" stroke-width="1.38">5</text>
<text transform="translate(468.53,562.60) scale(0.2417,0.2417)" font-size="100" fill="#1c1c1c">-</text>
<path d="M476.60,551.80 L479.65,549.00 L479.65,562.60" fill="none" stroke="#1c1c1c" stroke-width="1.45" stroke-linejoin="miter"/>
<text transform="translate(480.57,562.60) scale(0.1890,0.1890)" font-size="100" fill="#1c1c1c">.</text>
<text transform="translate(483.75,562.60) scale(0.2176,0.2005)" font-size="100" fill="#1c1c1c" stroke="#1c1c1c" stroke-width="1.34">0</text>
<text transform="translate(564.98,562.60) scale(0.2294,0.2294)" font-size="100" fill="#1c1c1c">-</text>
<path d="M572.60,551.80 L576.05,549.00 L576.05,562.60" fill="none" stroke="#1c1c1c" stroke-width="1.45" stroke-linejoin="miter"/>
<text transform="translate(577.17,562.60) scale(0.1890,0.1890)" font-size="100" fill="#1c1c1c">.</text>
<text transform="translate(581.14,562.60) scale(0.2151,0.2035)" font-size="100" fill="#1c1c1c" stroke="#1c1c1c" stroke-width="1.34">5</text>
<text transform="translate(363.15,220.30) scale(0.2427,0.1862)" font-size="100" fill="#1c1c1c" stroke="#1c1c1c" stroke-width="1.31">0</text>
<text transform="translate(374.17,220.30) scale(0.1890,0.1890)" font-size="100" fill="#1c1c1c">.</text>
<text transform="translate(377.93,220.30) scale(0.2129,0.1862)" font-size="100" fill="#1c1c1c" stroke="#1c1c1c" stroke-width="1.40">2</text>
<text transform="translate(397.22,220.30) scale(0.1928,0.1757)" font-size="100" fill="#1c1c1c" stroke="#1c1c1c" stroke-width="1.52">M</text>
<text transform="translate(363.15,240.00) scale(0.2427,0.1890)" font-size="100" fill="#1c1c1c" stroke="#1c1c1c" stroke-width="1.30">0</text>
<text transform="translate(374.37,240.00) scale(0.1890,0.1890)" font-size="100" fill="#1c1c1c">.</text>
<path d="M377.60,230.00 L380.25,227.20 L380.25,240.00" fill="none" stroke="#1c1c1c" stroke-width="1.45" stroke-linejoin="miter"/>
<text transform="translate(388.67,240.00) scale(0.1749,0.1784)" font-size="100" fill="#1c1c1c" stroke="#1c1c1c" stroke-width="1.58">M</text>
<text transform="translate(363.65,268.20) scale(0.2427,0.1905)" font-size="100" fill="#1c1c1c" stroke="#1c1c1c" stroke-width="1.29">0</text>
<text transform="translate(374.37,268.20) scale(0.1890,0.1890)" font-size="100" fill="#1c1c1c">.</text>
<text transform="translate(377.27,268.20) scale(0.2113,0.1905)" font-size="100" fill="#1c1c1c" stroke="#1c1c1c" stroke-width="1.39">0</text>
<text transform="translate(388.32,268.20) scale(0.1940,0.1933)" font-size="100" fill="#1c1c1c" stroke="#1c1c1c" stroke-width="1.45">5</text>
<text transform="translate(405.87,268.20) scale(0.1869,0.1798)" font-size="100" fill="#1c1c1c" stroke="#1c1c1c" stroke-width="1.53">M</text>
<text transform="translate(366.56,293.20) scale(0.2406,0.1905)" font-size="100" fill="#1c1c1c" stroke="#1c1c1c" stroke-width="1.30">0</text>
<text transform="translate(377.27,293.20) scale(0.1890,0.1890)" font-size="100" fill="#1c1c1c">.</text>
<text transform="translate(380.53,293.20) scale(0.2217,0.1905)" font-size="100" fill="#1c1c1c" stroke="#1c1c1c" stroke-width="1.36">0</text>
<path d="M392.60,283.10 L395.15,280.30 L395.15,293.20" fill="none" stroke="#1c1c1c" stroke-width="1.45" stroke-linejoin="miter"/>
<text transform="translate(396.84,293.20) scale(0.2004,0.1933)" font-size="100" fill="#1c1c1c" stroke="#1c1c1c" stroke-width="1.42">4</text>
<text transform="translate(415.97,293.20) scale(0.1869,0.1798)" font-size="100" fill="#1c1c1c" stroke="#1c1c1c" stroke-width="1.53">M</text>
<text stroke="#1c1c1c" stroke-width="3.2" transform="translate(402.28,589.30) scale(0.1734,0.2020)" font-size="100" fill="#1c1c1c" stroke="#1c1c1c" stroke-width="1.49">E</text>
<text transform="translate(423.82,589.30) scale(0.1747,0.1948)" font-size="100" fill="#1c1c1c" stroke="#1c1c1c" stroke-width="1.52">V</text>
<text transform="translate(413.88,588.90) scale(0.2140,0.1590)" font-size="100" fill="#1c1c1c">,</text>
<g transform="translate(174.6,340.3) rotate(-90)">
<text transform="translate(2.27,0.00) scale(0.1626,0.1833)" font-size="100" fill="#1c1c1c" stroke="#1c1c1c" stroke-width="1.62">C</text>
<text transform="translate(12.17,0.30) scale(0.2038,0.2038)" font-size="100" fill="#1c1c1c">,</text>
<text transform="translate(28.21,0.00) scale(0.1330,0.1860)" font-size="100" fill="#1c1c1c" stroke="#1c1c1c" stroke-width="1.76">F</text>
<text transform="translate(38.97,0.00) scale(0.1998,0.1747)" font-size="100" fill="#1c1c1c" stroke="#1c1c1c" stroke-width="1.50">m</text>
<path d="M49.6,-14.4 h2.8" fill="none" stroke="#1c1c1c" stroke-width="1.3"/>
<text transform="translate(54.19,-9.60) scale(0.1207,0.1289)" font-size="100" fill="#1c1c1c" stroke="#fff" stroke-width="0.80">2</text>
</g>
<g font-family="'Liberation Serif',serif" font-size="19.2" fill="#141414" stroke="#141414" stroke-width="0.4">
<text x="161.9" y="620.6" textLength="32.5" lengthAdjust="spacingAndGlyphs">F<tspan font-size="14.6">IG</tspan>.</text>
<text x="203.5" y="620.6" textLength="8.4" lengthAdjust="spacingAndGlyphs">1</text>
<text x="214.3" y="620.6" textLength="4.7" lengthAdjust="spacingAndGlyphs">.</text>
<text x="226.7" y="620.6" textLength="98.2" lengthAdjust="spacingAndGlyphs">Differential</text>
<text x="332.4" y="620.6" textLength="69.2" lengthAdjust="spacingAndGlyphs">capacity</text>
<text x="409.9" y="620.6" textLength="13.7" lengthAdjust="spacingAndGlyphs" font-style="italic">C</text>
<text x="431.8" y="620.6" textLength="59.8" lengthAdjust="spacingAndGlyphs">against</text>
<text x="498.2" y="620.6" textLength="81.6" lengthAdjust="spacingAndGlyphs">electrode</text>
<text x="585.7" y="620.6" textLength="74.1" lengthAdjust="spacingAndGlyphs">potential</text>
<text x="666.2" y="620.6" textLength="14.7" lengthAdjust="spacingAndGlyphs" font-style="italic">E</text>
<text x="139.2" y="642.2" textLength="26.0" lengthAdjust="spacingAndGlyphs">for</text>
<text x="173.3" y="642.2" textLength="25.6" lengthAdjust="spacingAndGlyphs">the</text>
<text x="206.4" y="642.2" textLength="112.9" lengthAdjust="spacingAndGlyphs">Hg/methanol</text>
<text x="328.4" y="642.2" textLength="74.8" lengthAdjust="spacingAndGlyphs">interface</text>
<text x="412.7" y="642.2" textLength="36.8" lengthAdjust="spacingAndGlyphs">with</text>
<text x="457.5" y="642.2" textLength="62.6" lengthAdjust="spacingAndGlyphs">various</text>
<text x="527.2" y="642.2" textLength="127.3" lengthAdjust="spacingAndGlyphs">concentrations</text>
<text x="662.3" y="642.2" textLength="18.3" lengthAdjust="spacingAndGlyphs">of</text>
<text x="140.2" y="663.7" textLength="67" lengthAdjust="spacingAndGlyphs">NaClO<tspan font-size="12.5" dy="3.5">4</tspan></text>
<text x="211.3" y="663.7" textLength="18.4" lengthAdjust="spacingAndGlyphs">as</text>
<text x="235.6" y="663.7" textLength="81.7" lengthAdjust="spacingAndGlyphs">indicated.</text>
</g>
</svg>
</body></html>
